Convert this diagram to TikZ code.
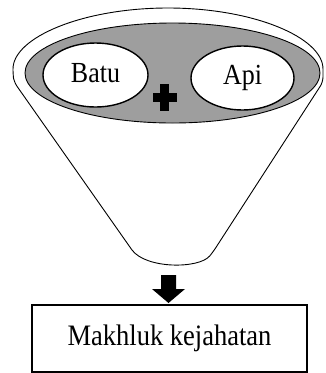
\documentclass[tikz,border=0pt]{standalone}
\usepackage{graphicx}
\usepackage{fontspec}
\setmainfont{Liberation Serif}
\usetikzlibrary{shapes.geometric}
\newcommand{\tallt}[1]{\scalebox{1}[1.12]{#1}}
\begin{document}
\begin{tikzpicture}[x=1pt,y=-1pt,
  funnelline/.style={draw=black,line width=0.9pt},
  bowl/.style={draw=black,line width=0.9pt,fill=black!38},
  itembox/.style={ellipse,draw=black,line width=1.4pt,fill=white,inner sep=0pt,font=\fontsize{26}{29}\selectfont},
  resultbox/.style={rectangle,draw=black,line width=1.6pt,fill=white,inner sep=0pt,font=\fontsize{26.5}{30}\selectfont}]
\useasboundingbox (0,0) rectangle (325,373);
% funnel outline
\draw[funnelline,rounded corners=5pt] (132,250) -- (14,82) -- (13,74)
  arc[start angle=180,end angle=0,x radius=155pt,y radius=66pt]
  -- (323,82) -- (213,252) [sharp corners] .. controls (199,269) and (146,269) .. (132,250) -- cycle;
% grey bowl
\draw[bowl] (172.5,73) ellipse [x radius=147.5pt,y radius=50pt];
% items
\node[itembox,minimum width=105pt,minimum height=64pt] (batu) at (95.5,75) {\raisebox{4pt}{\tallt{Batu}}};
\node[itembox,minimum width=103pt,minimum height=64pt] (api) at (242.5,78) {\tallt{Api}};
% plus sign
\fill[black] (159.5,84) rectangle (169.3,111);
\fill[black] (152.7,92.7) rectangle (176.7,101.7);
% arrow
\fill[black] (161,275) -- (176,275) -- (176,289) -- (185,289) -- (168.5,303) -- (152,289) -- (161,289) -- cycle;
% result
\node[resultbox,minimum width=275pt,minimum height=67pt] (result) at (169.5,338.5) {\tallt{Makhluk kejahatan}};
\end{tikzpicture}
\end{document}
